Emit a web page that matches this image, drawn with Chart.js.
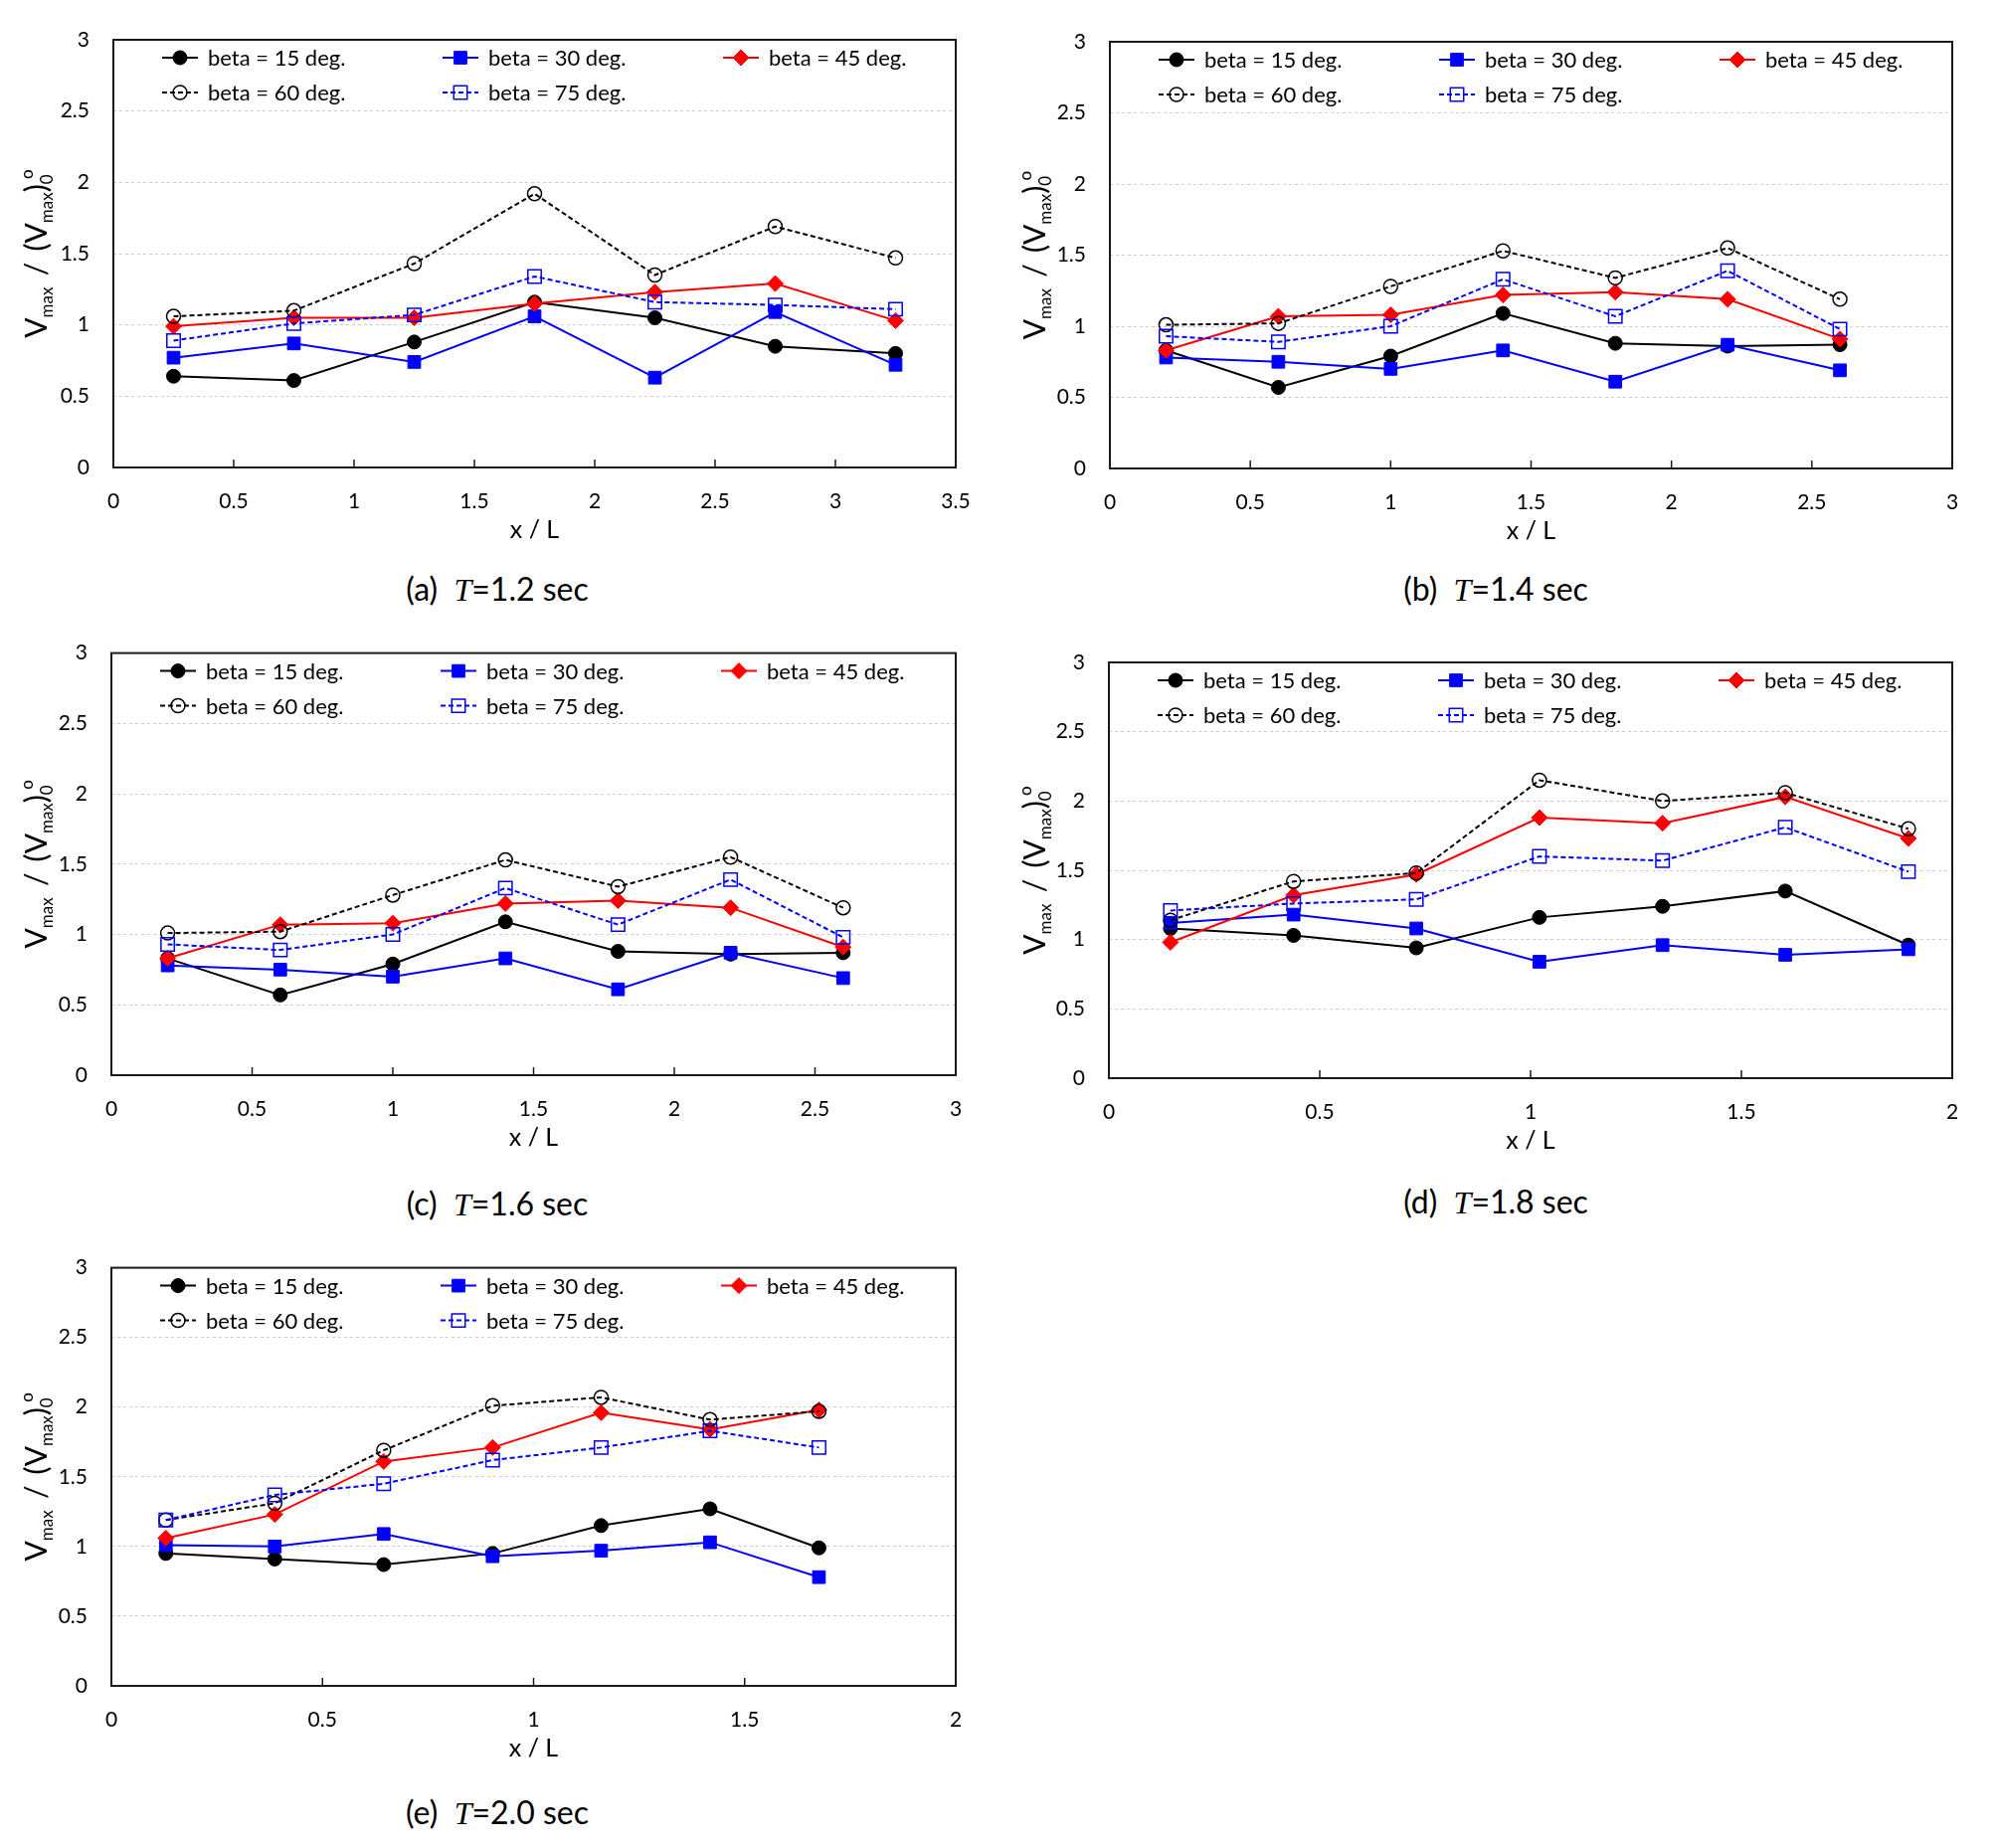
<!DOCTYPE html>
<html lang="en">
  <head>
    <meta charset="utf-8" />
    <title>Vmax ratio along x / L</title>
    <style>
      * {
        margin: 0;
        padding: 0;
      }
      body {
        width: 2008px;
        height: 1858px;
        background: #fff;
        position: relative;
        overflow: hidden;
        font-family: Lato, sans-serif;
      }
      .panel {
        position: absolute;
        width: 1004px;
        height: 620px;
      }
      .chartBox {
        position: absolute;
        left: 0;
        top: 0;
        width: 1004px;
      }
      .caption {
        position: absolute;
        left: 250px;
        width: 500px;
        text-align: center;
        font-size: 32px;
        line-height: 38px;
        color: #000;
        white-space: pre;
      }
      .caption i {
        font-family: "Liberation Serif", serif;
        font-style: italic;
      }
    </style>
  </head>
  <body>
    <script src="https://cdn.jsdelivr.net/npm/chart.js"></script>
    <script>
      // ---- data ----
      const seriesLabels = ["beta = 15 deg.", "beta = 30 deg.", "beta = 45 deg.", "beta = 60 deg.", "beta = 75 deg."];

      // (a) T = 1.2 sec
      const xA = [0.25, 0.75, 1.25, 1.75, 2.25, 2.75, 3.25];
      const a15 = [0.64, 0.61, 0.88, 1.16, 1.05, 0.85, 0.80];
      const a30 = [0.77, 0.87, 0.74, 1.06, 0.63, 1.09, 0.72];
      const a45 = [0.99, 1.05, 1.05, 1.15, 1.23, 1.29, 1.03];
      const a60 = [1.06, 1.10, 1.43, 1.92, 1.35, 1.69, 1.47];
      const a75 = [0.89, 1.01, 1.07, 1.34, 1.16, 1.14, 1.11];

      // (b) T = 1.4 sec
      const xB = [0.2, 0.6, 1.0, 1.4, 1.8, 2.2, 2.6];
      const b15 = [0.83, 0.57, 0.79, 1.09, 0.88, 0.86, 0.87];
      const b30 = [0.78, 0.75, 0.70, 0.83, 0.61, 0.87, 0.69];
      const b45 = [0.83, 1.07, 1.08, 1.22, 1.24, 1.19, 0.91];
      const b60 = [1.01, 1.02, 1.28, 1.53, 1.34, 1.55, 1.19];
      const b75 = [0.93, 0.89, 1.00, 1.33, 1.07, 1.39, 0.98];

      // (c) T = 1.6 sec
      const xC = [0.2, 0.6, 1.0, 1.4, 1.8, 2.2, 2.6];
      const c15 = [0.83, 0.57, 0.79, 1.09, 0.88, 0.86, 0.87];
      const c30 = [0.78, 0.75, 0.70, 0.83, 0.61, 0.87, 0.69];
      const c45 = [0.83, 1.07, 1.08, 1.22, 1.24, 1.19, 0.91];
      const c60 = [1.01, 1.02, 1.28, 1.53, 1.34, 1.55, 1.19];
      const c75 = [0.93, 0.89, 1.00, 1.33, 1.07, 1.39, 0.98];

      // (d) T = 1.8 sec
      const xD = [0.146, 0.438, 0.729, 1.021, 1.313, 1.604, 1.896];
      const d15 = [1.08, 1.03, 0.94, 1.16, 1.24, 1.35, 0.96];
      const d30 = [1.12, 1.18, 1.08, 0.84, 0.96, 0.89, 0.93];
      const d45 = [0.98, 1.32, 1.47, 1.88, 1.84, 2.03, 1.73];
      const d60 = [1.14, 1.42, 1.48, 2.15, 2.00, 2.06, 1.80];
      const d75 = [1.21, 1.26, 1.29, 1.60, 1.57, 1.81, 1.49];

      // (e) T = 2.0 sec
      const xE = [0.129, 0.387, 0.645, 0.903, 1.16, 1.418, 1.676];
      const e15 = [0.95, 0.91, 0.87, 0.95, 1.15, 1.27, 0.99];
      const e30 = [1.01, 1.00, 1.09, 0.93, 0.97, 1.03, 0.78];
      const e45 = [1.06, 1.23, 1.61, 1.71, 1.96, 1.84, 1.98];
      const e60 = [1.19, 1.31, 1.69, 2.01, 2.07, 1.91, 1.97];
      const e75 = [1.19, 1.37, 1.45, 1.62, 1.71, 1.83, 1.71];

      // tick labels
      const yTicks = ["0", "0.5", "1", "1.5", "2", "2.5", "3"];
      const xTicks35 = ["0", "0.5", "1", "1.5", "2", "2.5", "3", "3.5"];
      const xTicks3 = ["0", "0.5", "1", "1.5", "2", "2.5", "3"];
      const xTicks2 = ["0", "0.5", "1", "1.5", "2"];
      const xTitle = "x / L";

      // captions
      const captionTags = ["(a)", "(b)", "(c)", "(d)", "(e)"];
      const captionPeriods = ["1.2 sec", "1.4 sec", "1.6 sec", "1.8 sec", "2.0 sec"];

      // ---- styles / layout ----
      const seriesStyle = [
        { color: "#000000", dash: [], point: "circle", radius: 7, fill: true },
        { color: "#0000ff", dash: [], point: "rect", radius: 9, fill: true },
        { color: "#ff0000", dash: [], point: "rectRot", radius: 8, fill: true },
        { color: "#000000", dash: [5, 3], point: "circle", radius: 7, fill: false },
        { color: "#0000ff", dash: [5, 3], point: "rect", radius: 9.5, fill: false }
      ];

      // plot = [left, right, top, bottom] of the plot frame inside each panel
      const panelLayout = [
        { left: 0, top: 0, plot: [114, 961, 40, 470], capY: 592 },
        { left: 1004, top: 0, plot: [112, 959, 42, 471], capY: 592 },
        { left: 0, top: 620, plot: [112, 961, 31, 461], capY: 590 },
        { left: 1004, top: 620, plot: [111, 959, 46, 464], capY: 588 },
        { left: 0, top: 1238, plot: [112, 961, 30, 457], capY: 584 }
      ];

      const panels = [
        { x: xA, series: [a15, a30, a45, a60, a75], xMax: 3.5, xTicks: xTicks35 },
        { x: xB, series: [b15, b30, b45, b60, b75], xMax: 3, xTicks: xTicks3 },
        { x: xC, series: [c15, c30, c45, c60, c75], xMax: 3, xTicks: xTicks3 },
        { x: xD, series: [d15, d30, d45, d60, d75], xMax: 2, xTicks: xTicks2 },
        { x: xE, series: [e15, e30, e45, e60, e75], xMax: 2, xTicks: xTicks2 }
      ];

      const FONT = "Lato";

      function drawMarker(ctx, st, x, y) {
        const r = st.radius;
        ctx.save();
        ctx.setLineDash([]);
        ctx.lineWidth = st.fill ? 1 : 1.5;
        ctx.strokeStyle = st.color;
        ctx.fillStyle = st.color;
        ctx.beginPath();
        if (st.point === "circle") {
          ctx.arc(x, y, r, 0, Math.PI * 2);
        } else if (st.point === "rect") {
          const s = r * Math.SQRT1_2;
          ctx.rect(x - s, y - s, 2 * s, 2 * s);
        } else {
          ctx.moveTo(x, y - r);
          ctx.lineTo(x + r, y);
          ctx.lineTo(x, y + r);
          ctx.lineTo(x - r, y);
          ctx.closePath();
        }
        if (st.fill) ctx.fill();
        ctx.stroke();
        ctx.restore();
      }

      // frame round the plot and small inside ticks on x
      const framePlugin = {
        id: "framePlugin",
        beforeDatasetsDraw(chart) {
          const { ctx, chartArea: a, scales: { x } } = chart;
          ctx.save();
          ctx.strokeStyle = "#1a1a1a";
          ctx.lineWidth = 1.5;
          x.ticks.forEach((t) => {
            const px = x.getPixelForValue(t.value);
            ctx.beginPath();
            ctx.moveTo(px, a.bottom);
            ctx.lineTo(px, a.bottom - 8);
            ctx.stroke();
          });
          ctx.lineWidth = 2;
          ctx.strokeRect(a.left, a.top, a.right - a.left, a.bottom - a.top);
          ctx.restore();
        }
      };

      // legend inside the plot, 3 columns
      const legendPlugin = {
        id: "legendPlugin",
        afterDraw(chart) {
          const { ctx, chartArea: a } = chart;
          ctx.save();
          ctx.font = "22px " + FONT;
          ctx.textBaseline = "middle";
          ctx.fillStyle = "#000";
          seriesLabels.forEach((label, i) => {
            const st = seriesStyle[i];
            const x0 = a.left + 49 + (i % 3) * 282;
            const y0 = a.top + 18 + Math.floor(i / 3) * 35;
            ctx.strokeStyle = st.color;
            ctx.lineWidth = 2;
            ctx.setLineDash(st.dash);
            ctx.beginPath();
            ctx.moveTo(x0, y0);
            ctx.lineTo(x0 + 36, y0);
            ctx.stroke();
            drawMarker(ctx, st, x0 + 18, y0);
            ctx.fillText(label, x0 + 46, y0 + 1);
          });
          ctx.restore();
        }
      };

      // rotated y title with sub/superscripts
      const yTitlePlugin = {
        id: "yTitlePlugin",
        afterDraw(chart) {
          const { ctx, chartArea: a } = chart;
          const parts = [
            ["V", 30, 0, 0],
            ["max", 17, 6, 0],
            [" / ", 30, 0, 7],
            ["(", 30, 0, 0],
            ["V", 30, 0, 0],
            ["max", 17, 6, 0],
            [")", 30, 0, 0],
            ["0", 17, 6, 0],
            ["o", 17, -14, 0]
          ];
          ctx.save();
          ctx.fillStyle = "#000";
          ctx.textBaseline = "alphabetic";
          let total = 0;
          const widths = parts.map(([t, size, , extra]) => {
            ctx.font = size + "px " + FONT;
            return ctx.measureText(t).width + extra;
          });
          // "o" sits partly above the "0"
          widths[7] *= 0.55;
          widths.forEach((w) => (total += w));
          ctx.translate(47, (a.top + a.bottom) / 2);
          ctx.rotate(-Math.PI / 2);
          let pos = -total / 2;
          parts.forEach(([t, size, dy, extra], i) => {
            ctx.font = size + "px " + FONT;
            ctx.fillText(t, pos + extra / 2, dy);
            pos += widths[i];
          });
          ctx.restore();
        }
      };

      panels.forEach((p, k) => {
        const lay = panelLayout[k];
        const [pl, pr, pt, pb] = lay.plot;
        const H = pb + 86;

        const panel = document.createElement("div");
        panel.className = "panel";
        panel.style.left = lay.left + "px";
        panel.style.top = lay.top + "px";
        const box = document.createElement("div");
        box.className = "chartBox";
        box.style.height = H + "px";
        const canvas = document.createElement("canvas");
        box.appendChild(canvas);
        panel.appendChild(box);
        const cap = document.createElement("div");
        cap.className = "caption";
        cap.style.top = lay.capY - 19 + "px";
        cap.innerHTML = captionTags[k] + "  <i>T</i>=" + captionPeriods[k];
        panel.appendChild(cap);
        document.body.appendChild(panel);

        const datasets = seriesLabels.map((label, i) => {
          const st = seriesStyle[i];
          return {
            label,
            data: p.x.map((x, j) => ({ x, y: p.series[i][j] })),
            borderColor: st.color,
            borderWidth: 2,
            borderDash: st.dash,
            pointStyle: st.point,
            pointRadius: st.radius,
            pointBorderWidth: st.fill ? 1 : 1.5,
            pointBorderColor: st.color,
            pointBackgroundColor: st.fill ? st.color : "rgba(0,0,0,0)",
            fill: false,
            tension: 0,
            order: 5 - i
          };
        });

        new Chart(canvas, {
          type: "line",
          data: { datasets },
          options: {
            responsive: true,
            maintainAspectRatio: false,
            animation: false,
            layout: { padding: { left: 0, right: 1004 - pr, top: pt, bottom: 0 } },
            plugins: {
              legend: { display: false },
              tooltip: { enabled: false }
            },
            scales: {
              x: {
                type: "linear",
                min: 0,
                max: p.xMax,
                afterFit(s) {
                  s.height = H - pb;
                },
                grid: { display: false, drawTicks: false },
                border: { display: false },
                ticks: {
                  stepSize: 0.5,
                  padding: 22,
                  color: "#000",
                  maxRotation: 0,
                  autoSkip: false,
                  font: { family: FONT, size: 21 },
                  callback: (v, i) => p.xTicks[i]
                },
                title: {
                  display: true,
                  text: xTitle,
                  color: "#000",
                  font: { family: FONT, size: 25 },
                  padding: { top: 0, bottom: 8 }
                }
              },
              y: {
                min: 0,
                max: 3,
                afterFit(s) {
                  s.width = pl;
                },
                grid: { color: "#cccccc", lineWidth: 1, drawTicks: false },
                border: { display: false, dash: [3, 3] },
                ticks: {
                  stepSize: 0.5,
                  padding: 24,
                  color: "#000",
                  font: { family: FONT, size: 21 },
                  callback: (v, i) => yTicks[i]
                }
              }
            }
          },
          plugins: [framePlugin, legendPlugin, yTitlePlugin]
        });
      });
    </script>
  </body>
</html>
